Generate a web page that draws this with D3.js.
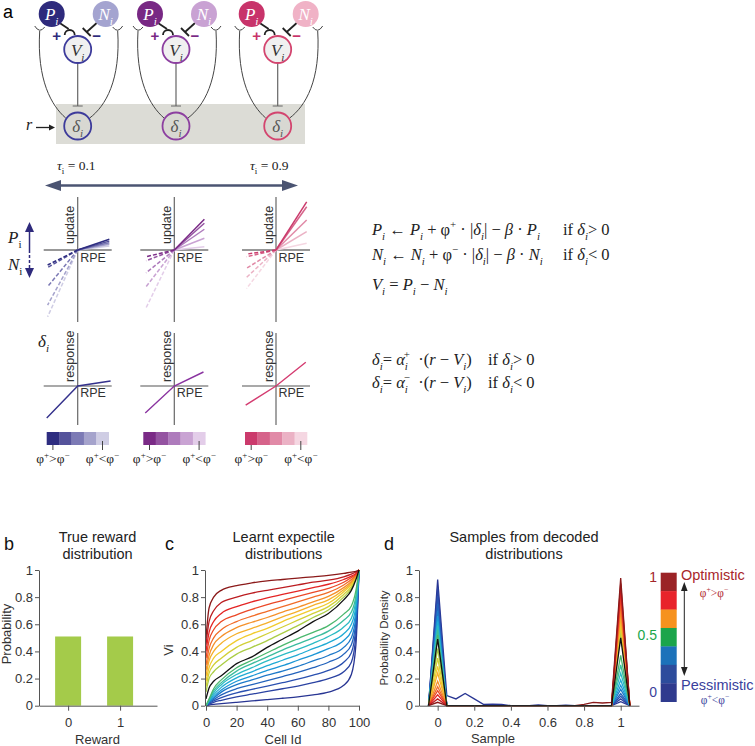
<!DOCTYPE html>
<html>
<head>
<meta charset="utf-8">
<title>Distributional RL figure</title>
<script src="https://d3js.org/d3.v7.min.js"></script>
<style>
  body { margin: 0; background: #fff; }
  svg text { font-family: "Liberation Sans", Arial, sans-serif; }
</style>
</head>
<body>
<svg id="fig" width="755" height="746"></svg>
<script>
// ---------- data ----------
// panel a: update slope per unit RPE, darkest shade first
const posSlopes = [[0.34, 0.28, 0.23, 0.18, 0.13], [1.02, 0.89, 0.69, 0.39, 0.11], [1.57, 1.41, 0.98, 0.60, 0.22]];
const negSlopes = [[0.50, 0.58, 1.22, 1.83, 2.22], [0.24, 0.38, 0.81, 1.30, 2.05], [0.14, 0.23, 0.62, 0.93, 1.31]];
const respPos = [0.15, 0.48, 0.80];
const respNeg = [1.03, 0.93, 0.63];
const tauLabels = ["0.1", "0.9"];

// panel b
const rewards = [0, 1];
const rewardProb = [0.51, 0.51];

// panel c: Vi at these cell ids, one row per expectile (bottom -> top), row 10 is black
const cellIds = [0, 2, 5, 10, 20, 30, 40, 50, 60, 70, 80, 90, 95, 98, 100];
const expectileCurves = [
  [0.00, 0.005, 0.01, 0.015, 0.025, 0.035, 0.045, 0.055, 0.065, 0.08, 0.10, 0.15, 0.23, 0.45, 1.0],
  [0.00, 0.012, 0.025, 0.04, 0.065, 0.085, 0.105, 0.125, 0.145, 0.17, 0.20, 0.25, 0.32, 0.52, 1.0],
  [0.00, 0.018, 0.035, 0.06, 0.095, 0.12, 0.145, 0.17, 0.195, 0.225, 0.26, 0.32, 0.39, 0.58, 1.0],
  [0.00, 0.022, 0.045, 0.08, 0.125, 0.155, 0.185, 0.215, 0.245, 0.28, 0.32, 0.38, 0.45, 0.62, 1.0],
  [0.00, 0.026, 0.055, 0.10, 0.155, 0.19, 0.225, 0.255, 0.29, 0.33, 0.37, 0.43, 0.50, 0.66, 1.0],
  [0.00, 0.03, 0.065, 0.115, 0.18, 0.22, 0.26, 0.295, 0.335, 0.375, 0.42, 0.48, 0.55, 0.70, 1.0],
  [0.00, 0.035, 0.08, 0.135, 0.205, 0.25, 0.295, 0.335, 0.375, 0.42, 0.465, 0.53, 0.60, 0.74, 1.0],
  [0.00, 0.04, 0.095, 0.155, 0.23, 0.28, 0.33, 0.375, 0.415, 0.46, 0.51, 0.58, 0.645, 0.78, 1.0],
  [0.00, 0.045, 0.11, 0.17, 0.255, 0.31, 0.36, 0.41, 0.455, 0.50, 0.55, 0.63, 0.69, 0.81, 1.0],
  [0.00, 0.05, 0.125, 0.19, 0.28, 0.335, 0.39, 0.445, 0.495, 0.54, 0.59, 0.675, 0.735, 0.85, 1.0],
  [0.05, 0.13, 0.18, 0.22, 0.31, 0.36, 0.43, 0.49, 0.55, 0.62, 0.68, 0.78, 0.85, 0.93, 1.0],
  [0.10, 0.20, 0.25, 0.30, 0.38, 0.43, 0.48, 0.535, 0.59, 0.65, 0.705, 0.80, 0.865, 0.94, 1.0],
  [0.14, 0.24, 0.30, 0.35, 0.43, 0.48, 0.53, 0.58, 0.63, 0.68, 0.73, 0.82, 0.88, 0.945, 1.0],
  [0.18, 0.28, 0.35, 0.40, 0.48, 0.53, 0.57, 0.62, 0.665, 0.71, 0.755, 0.84, 0.895, 0.95, 1.0],
  [0.22, 0.33, 0.40, 0.46, 0.53, 0.57, 0.61, 0.655, 0.695, 0.74, 0.78, 0.855, 0.905, 0.955, 1.0],
  [0.26, 0.37, 0.45, 0.51, 0.575, 0.615, 0.65, 0.69, 0.725, 0.765, 0.805, 0.87, 0.915, 0.96, 1.0],
  [0.30, 0.42, 0.50, 0.56, 0.62, 0.66, 0.695, 0.73, 0.765, 0.80, 0.835, 0.89, 0.93, 0.965, 1.0],
  [0.35, 0.48, 0.56, 0.62, 0.67, 0.71, 0.745, 0.775, 0.805, 0.835, 0.865, 0.91, 0.945, 0.97, 1.0],
  [0.40, 0.54, 0.62, 0.68, 0.73, 0.765, 0.795, 0.82, 0.845, 0.87, 0.895, 0.93, 0.955, 0.975, 1.0],
  [0.45, 0.62, 0.70, 0.76, 0.80, 0.83, 0.85, 0.87, 0.89, 0.91, 0.925, 0.95, 0.97, 0.985, 1.0],
  [0.50, 0.72, 0.80, 0.85, 0.885, 0.905, 0.92, 0.93, 0.94, 0.95, 0.96, 0.975, 0.985, 0.99, 1.0]
];

// panel d: decoded densities on the sample grid, same row order as panel c
const sampleGrid = [-0.05, 0, 0.05, 0.1, 0.15, 0.2, 0.25, 0.3, 0.35, 0.4, 0.45, 0.5, 0.55, 0.6, 0.65, 0.7, 0.75, 0.8, 0.85, 0.9, 0.95, 1, 1.05];
const peakAtZero = [0.93, 0.87, 0.81, 0.75, 0.70, 0.66, 0.62, 0.59, 0.56, 0.52, 0.49, 0.42, 0.35, 0.29, 0.24, 0.18, 0.14, 0.11, 0.08, 0.05, 0.025];
const peakAtOne = [0.03, 0.05, 0.07, 0.09, 0.12, 0.15, 0.19, 0.24, 0.30, 0.37, 0.50, 0.54, 0.58, 0.62, 0.66, 0.71, 0.76, 0.81, 0.86, 0.90, 0.94];
const pessimisticTail = [0, 0.93, 0.075, 0.05, 0.09, 0.05, 0.01, 0.012, 0.01, 0, 0, 0, 0.005, 0, 0, 0.004, 0, 0, 0, 0, 0, 0.03, 0];
const optimisticTail = [0, 0.025, 0, 0, 0, 0, 0, 0, 0, 0, 0, 0, 0, 0, 0, 0, 0, 0.01, 0.025, 0.02, 0.025, 0.94, 0];
const legendTicks = [["1", 1], ["0.5", 0.5], ["0", 0]];
const legendColors = ["#9b2326", "#e8232b", "#f6921e", "#1ba54b", "#1c72ba", "#2d4c9c", "#2f3a8e"];

// ---------- helpers ----------
const svg = d3.select("#fig");
const serif = '"Liberation Serif", "Times New Roman", serif';

// parts: [text, italic, shift] where shift is "sub" | "sup" | undefined
function rich(g, x, y, parts, size, color, anchor) {
  const t = g.append("text").attr("x", x).attr("y", y)
    .style("font-family", serif).style("font-size", size + "px")
    .style("white-space", "pre").attr("fill", color || "#222")
    .attr("text-anchor", anchor || "start");
  let cur = 0;
  parts.forEach(p => {
    const s = t.append("tspan").text(p[0]);
    let target = 0;
    if (p[2] === "sub") target = size * 0.3;
    if (p[2] === "sup") target = -size * 0.4;
    if (target !== cur) { s.attr("dy", target - cur); cur = target; }
    if (p[2]) s.style("font-size", (size * 0.66) + "px");
    if (p[1]) s.style("font-style", "italic");
    if (p[3]) s.attr("dx", p[3]);
  });
  return t;
}

function styleAxis(g, size) {
  g.select(".domain").attr("stroke", "#555");
  g.selectAll(".tick line").attr("stroke", "#555");
  g.selectAll(".tick text").attr("fill", "#333")
    .style("font-family", '"Liberation Sans", Arial, sans-serif').style("font-size", size + "px");
}
const fmt = d3.format("~g");

// ---------- panel a ----------
const pal = [
  { P: "#2e2a7c", N: "#a4a4d0", V: "#3d3b9b", line: "#34318c",
    shades: ["#2e2d80", "#55539b", "#7c7ab5", "#a5a3cc", "#cfcde4"] },
  { P: "#782884", N: "#c9a2d3", V: "#8c3fa0", line: "#8a34a0",
    shades: ["#7a2a86", "#9453a1", "#ae7bbc", "#c9a3d3", "#e3cde9"] },
  { P: "#c8336a", N: "#f0b2c6", V: "#d3456f", line: "#d43b70",
    shades: ["#cb3a6c", "#d6638a", "#e18aa7", "#ebb2c5", "#f5d7e2"] }
];
const nodeX = [77.7, 176, 277.7];
const plotX = [77.7, 174.3, 276];

const a = svg.append("g");
a.append("text").attr("x", 3).attr("y", 18).style("font-size", "18px").text("a");
a.append("rect").attr("x", 56).attr("y", 104).attr("width", 249).attr("height", 40).attr("fill", "#dcdcd6");

nodeX.forEach((cx, g) => {
  const c = pal[g];
  // long arcs from delta back to P and N
  a.append("path").attr("d", `M${cx - 38},31 C${cx - 41},80 ${cx - 26},106 ${cx - 12},118`)
    .attr("fill", "none").attr("stroke", "#444").attr("stroke-width", 1);
  a.append("path").attr("d", `M${cx + 40},31 C${cx + 43},80 ${cx + 28},106 ${cx + 12},118`)
    .attr("fill", "none").attr("stroke", "#444").attr("stroke-width", 1);
  a.append("path").attr("d", `M${cx - 43},26 Q${cx - 38},34 ${cx - 33},27`)
    .attr("fill", "none").attr("stroke", "#444").attr("stroke-width", 1);
  a.append("path").attr("d", `M${cx + 35},27 Q${cx + 40},34 ${cx + 45},26`)
    .attr("fill", "none").attr("stroke", "#444").attr("stroke-width", 1);
  // P -> V (cup) and N -> V (bar)
  a.append("path").attr("d", `M${cx - 18},23 L${cx - 9},29`).attr("stroke", "#222").attr("stroke-width", 1.8);
  a.append("path").attr("d", `M${cx - 13},35 A5 5 0 0 1 ${cx - 3},35`).attr("fill", "none").attr("stroke", "#222").attr("stroke-width", 1.8);
  a.append("path").attr("d", `M${cx + 19},23 L${cx + 9},32`).attr("stroke", "#222").attr("stroke-width", 1.8);
  a.append("path").attr("d", `M${cx + 5},28 L${cx + 13},36`).attr("stroke", "#222").attr("stroke-width", 1.8);
  a.append("text").attr("x", cx - 21).attr("y", 41).attr("text-anchor", "middle")
    .style("font-size", "15px").style("font-weight", "bold").attr("fill", c.P).text("+");
  a.append("text").attr("x", cx + 19).attr("y", 41).attr("text-anchor", "middle")
    .style("font-size", "15px").style("font-weight", "bold").attr("fill", c.P).text("−");
  // V -> delta
  a.append("path").attr("d", `M${cx},63 L${cx},106 M${cx - 5},106 L${cx + 5},106`)
    .attr("stroke", "#666").attr("stroke-width", 1.2);
  // nodes
  a.append("circle").attr("cx", cx - 26).attr("cy", 14).attr("r", 13).attr("fill", c.P);
  a.append("circle").attr("cx", cx + 28).attr("cy", 14).attr("r", 13).attr("fill", c.N);
  a.append("circle").attr("cx", cx).attr("cy", 49.5).attr("r", 13.5).attr("fill", "#f0f0f0").attr("stroke", c.V).attr("stroke-width", 1.8);
  a.append("circle").attr("cx", cx).attr("cy", 126).attr("r", 13.5).attr("fill", "#d8d8d2").attr("stroke", c.V).attr("stroke-width", 1.8);
  rich(a, cx - 26, 20, [["P", true], ["i", true, "sub"]], 17, "#fff", "middle");
  rich(a, cx + 28, 20, [["N", true], ["i", true, "sub"]], 17, "#fff", "middle");
  rich(a, cx, 55.5, [["V", true], ["i", true, "sub"]], 17, "#333", "middle");
  rich(a, cx, 131.5, [["δ", true], ["i", true, "sub"]], 17, "#555", "middle");
});
rich(a, 26, 130, [["r", true]], 16, "#222");
a.append("path").attr("d", "M36,127.5 L51,127.5").attr("stroke", "#222").attr("stroke-width", 1.3);
a.append("path").attr("d", "M55,127.5 L49,124.5 L49,130.5 Z").attr("fill", "#222");

// tau double arrow
rich(a, 57, 170, [["τ", true], ["i", false, "sub"], [" = " + tauLabels[0]]], 13.5, "#222");
rich(a, 250, 170, [["τ", true], ["i", false, "sub"], [" = " + tauLabels[1]]], 13.5, "#222");
a.append("path").attr("d", "M58,185.5 L285,185.5").attr("stroke", "#4b5472").attr("stroke-width", 2.5);
a.append("path").attr("d", "M45,185.5 L61,180 L61,191 Z").attr("fill", "#4b5472");
a.append("path").attr("d", "M298,185.5 L282,180 L282,191 Z").attr("fill", "#4b5472");

// P / N arrow on the left
rich(a, 8, 243, [["P", true], ["i", false, "sub"]], 17, "#222");
rich(a, 8, 270, [["N", true], ["i", false, "sub"]], 17, "#222");
a.append("path").attr("d", "M29.5,230 L29.5,250").attr("stroke", "#2e2a7c").attr("stroke-width", 1.5);
a.append("path").attr("d", "M29.5,250 L29.5,271").attr("stroke", "#2e2a7c").attr("stroke-width", 1.5).attr("stroke-dasharray", "3,2");
a.append("path").attr("d", "M29.5,222 L25,232 L34,232 Z").attr("fill", "#2e2a7c");
a.append("path").attr("d", "M29.5,278 L25,268 L34,268 Z").attr("fill", "#2e2a7c");

// update and response mini plots
const posEnd = [1.02, 0.97, 0.99];
const negEnd = [-0.97, -0.91, -0.95];
plotX.forEach((cx, g) => {
  const c = pal[g];
  const x = d3.scaleLinear().domain([-1, 1]).range([cx - 31, cx + 31]);
  const yU = d3.scaleLinear().domain([-1, 1]).range([250 + 31, 250 - 31]);
  const yR = d3.scaleLinear().domain([-1, 1]).range([386 + 31, 386 - 31]);
  const line = d3.line().x(d => x(d[0]));

  // axes
  a.append("line").attr("x1", cx).attr("x2", cx).attr("y1", 197).attr("y2", 322).attr("stroke", "#666").attr("stroke-width", 1.2);
  a.append("line").attr("x1", cx - 34).attr("x2", cx + 34).attr("y1", 250).attr("y2", 250).attr("stroke", "#333").attr("stroke-width", 1.2);
  a.append("line").attr("x1", cx).attr("x2", cx).attr("y1", 333).attr("y2", 425).attr("stroke", "#666").attr("stroke-width", 1.2);
  a.append("line").attr("x1", cx - 34).attr("x2", cx + 34).attr("y1", 386).attr("y2", 386).attr("stroke", "#555").attr("stroke-width", 1.2);

  for (let k = 4; k >= 0; k--) {
    const sp = posSlopes[g][k], sn = negSlopes[g][k];
    a.append("path").attr("d", line.y(d => yU(d[1]))([[0, 0], [posEnd[g], sp * posEnd[g]]]))
      .attr("stroke", c.shades[k]).attr("stroke-width", 1.5).attr("fill", "none");
    a.append("path").attr("d", line.y(d => yU(d[1]))([[0, 0], [negEnd[g], sn * negEnd[g]]]))
      .attr("stroke", c.shades[k]).attr("stroke-width", 1.5).attr("fill", "none").attr("stroke-dasharray", "4,2");
  }
  const rl = posEnd[g] * (g === 0 ? 1.04 : 0.97);
  a.append("path").attr("d", line.y(d => yR(d[1]))([[negEnd[g] * 1.03, respNeg[g] * negEnd[g] * 1.03], [0, 0], [rl, respPos[g] * rl]]))
    .attr("stroke", c.line).attr("stroke-width", 1.4).attr("fill", "none");

  a.append("text").attr("transform", `translate(${cx - 3.5},244) rotate(-90)`)
    .style("font-size", "12.5px").attr("fill", "#333").text("update");
  a.append("text").attr("x", cx + 2.5).attr("y", 262).style("font-size", "12.5px").attr("fill", "#333").text("RPE");
  a.append("text").attr("transform", `translate(${cx - 3.5},382) rotate(-90)`)
    .style("font-size", "12.5px").attr("fill", "#333").text("response");
  a.append("text").attr("x", cx + 2.5).attr("y", 397).style("font-size", "12.5px").attr("fill", "#333").text("RPE");

  // shade bar
  const bx = d3.scaleBand().domain(d3.range(5)).range([cx - 31, cx + 31]);
  a.append("g").selectAll("rect").data(c.shades).join("rect")
    .attr("x", (d, i) => bx(i)).attr("y", 432).attr("width", bx.bandwidth() + 0.3).attr("height", 13).attr("fill", d => d);
  const t0 = bx(0) + bx.bandwidth() / 2, t4 = bx(4) + bx.bandwidth() / 2;
  a.append("path").attr("d", `M${t0},445 L${t0},450 M${t4},441 L${t4},450`).attr("stroke", "#444").attr("stroke-width", 1);
  rich(a, t0, 463, [["φ"], ["+", false, "sup"], [">"], ["φ"], ["−", false, "sup"]], 13.5, "#222", "middle");
  rich(a, t4, 463, [["φ"], ["+", false, "sup"], ["<"], ["φ"], ["−", false, "sup"]], 13.5, "#222", "middle");
});
rich(a, 38, 347, [["δ", true], ["i", true, "sub"]], 17, "#222");

// equations
const eq = svg.append("g");
const ES = 16.5;
rich(eq, 372, 235, [["P", true], ["i", true, "sub"], [" ← "], ["P", true], ["i", true, "sub"], [" + φ"], ["+", false, "sup"],
  [" · |"], ["δ", true], ["i", true, "sub"], ["| − "], ["β", true], [" · "], ["P", true], ["i", true, "sub"]], ES);
rich(eq, 563, 235, [["if "], ["δ", true], ["i", true, "sub"], ["> 0"]], ES);
rich(eq, 372, 260, [["N", true], ["i", true, "sub"], [" ← "], ["N", true], ["i", true, "sub"], [" + φ"], ["−", false, "sup"],
  [" · |"], ["δ", true], ["i", true, "sub"], ["| − "], ["β", true], [" · "], ["N", true], ["i", true, "sub"]], ES);
rich(eq, 563, 260, [["if "], ["δ", true], ["i", true, "sub"], ["< 0"]], ES);
rich(eq, 372, 290, [["V", true], ["i", true, "sub"], [" = "], ["P", true], ["i", true, "sub"], [" − "], ["N", true], ["i", true, "sub"]], ES);
rich(eq, 372, 365, [["δ", true], ["i", true, "sub"], ["= "], ["α", true], ["i", true, "sub"], ["+", false, "sup", -4], ["  ·("], ["r", true], [" − "], ["V", true], ["i", true, "sub"], [")"]], ES);
rich(eq, 488, 365, [["if "], ["δ", true], ["i", true, "sub"], ["> 0"]], ES);
rich(eq, 372, 388, [["δ", true], ["i", true, "sub"], ["= "], ["α", true], ["i", true, "sub"], ["−", false, "sup", -4], ["  ·("], ["r", true], [" − "], ["V", true], ["i", true, "sub"], [")"]], ES);
rich(eq, 488, 388, [["if "], ["δ", true], ["i", true, "sub"], ["< 0"]], ES);

// ---------- shared bottom layout ----------
const y0 = 705.7, y1 = 570;
function panelTitle(x, lines) {
  svg.append("text").attr("x", x).attr("y", 541.5).attr("text-anchor", "middle").style("font-size", "14.5px").attr("fill", "#222").text(lines[0]);
  svg.append("text").attr("x", x).attr("y", 559).attr("text-anchor", "middle").style("font-size", "14.5px").attr("fill", "#222").text(lines[1]);
}
function letter(x, t) {
  svg.append("text").attr("x", x).attr("y", 550).style("font-size", "18px").attr("fill", "#111").text(t);
}

// ---------- panel b ----------
letter(4, "b");
panelTitle(97.5, ["True reward", "distribution"]);
const xb = d3.scaleLinear().domain([-0.56, 1.71]).range([39, 157]);
const yb = d3.scaleLinear().domain([0, 1]).range([y0, y1]);
svg.append("g").selectAll("rect").data(rewards).join("rect")
  .attr("x", (d, i) => xb(d - 0.25)).attr("width", xb(0.25) - xb(-0.25))
  .attr("y", (d, i) => yb(rewardProb[i])).attr("height", (d, i) => y0 - yb(rewardProb[i]))
  .attr("fill", "#a4cb4a");
styleAxis(svg.append("g").attr("transform", `translate(39,0)`)
  .call(d3.axisLeft(yb).tickValues([0, 0.2, 0.4, 0.6, 0.8, 1]).tickFormat(fmt).tickSize(4).tickSizeOuter(0).tickPadding(2)), 13);
styleAxis(svg.append("g").attr("transform", `translate(0,${y0})`)
  .call(d3.axisBottom(xb).tickValues(rewards).tickFormat(fmt).tickSize(5).tickSizeOuter(0).tickPadding(7)), 13);
svg.append("text").attr("transform", "translate(11,634) rotate(-90)").attr("text-anchor", "middle").style("font-size", "13px").attr("fill", "#333").text("Probability");
svg.append("text").attr("x", 97.5).attr("y", 744).attr("text-anchor", "middle").style("font-size", "13px").attr("fill", "#333").text("Reward");

// ---------- panel c ----------
const jet = d3.scaleLinear()
  .domain(d3.range(12).map(i => i / 11))
  .range(["#283593", "#2b4cae", "#1f6fc4", "#1aa3dc", "#2fbfc0", "#4cb86a", "#a6cd45", "#f0d22e", "#f7a22a", "#ef5f28", "#e31e24", "#8b1a1a"]);
const curveColor = i => i === 10 ? "#111" : jet(i / 20);

letter(165, "c");
panelTitle(283.7, ["Learnt expectile", "distributions"]);
const xc = d3.scaleLinear().domain([0, 100]).range([206, 359]);
const yc = d3.scaleLinear().domain([0, 1]).range([y0, y1]);
const lineC = d3.line().x((d, i) => xc(cellIds[i])).y(d => yc(d)).curve(d3.curveMonotoneX);
const cOrder = d3.range(21).filter(i => i !== 10).concat([10]);
svg.append("g").selectAll("path").data(cOrder).join("path")
  .attr("d", i => lineC(expectileCurves[i]))
  .attr("fill", "none").attr("stroke", i => curveColor(i)).attr("stroke-width", 1.3);
styleAxis(svg.append("g").attr("transform", `translate(205,0)`)
  .call(d3.axisLeft(yc).tickValues([0, 0.2, 0.4, 0.6, 0.8, 1]).tickFormat(fmt).tickSize(4).tickSizeOuter(0).tickPadding(2)), 13);
styleAxis(svg.append("g").attr("transform", `translate(0,${y0})`)
  .call(d3.axisBottom(xc).tickValues([0, 20, 40, 60, 80, 100]).tickSize(5).tickSizeOuter(0).tickPadding(7)), 13);
svg.append("text").attr("transform", "translate(173,650) rotate(-90)").attr("text-anchor", "middle").style("font-size", "13px").attr("fill", "#333").text("Vi");
svg.append("text").attr("x", 283).attr("y", 744).attr("text-anchor", "middle").style("font-size", "13px").attr("fill", "#333").text("Cell Id");

// ---------- panel d ----------
letter(384, "d");
panelTitle(524, ["Samples from decoded", "distributions"]);
const xd = d3.scaleLinear().domain([-0.102, 1.1]).range([419, 639]);
const yd = d3.scaleLinear().domain([0, 1]).range([y0, y1]);
const decoded = d3.range(21).map(i => {
  if (i === 0) return pessimisticTail;
  if (i === 20) return optimisticTail;
  return sampleGrid.map(s => s === 0 ? peakAtZero[i] : (s === 1 ? peakAtOne[i] : 0));
});
const lineD = d3.line().x((d, i) => xd(sampleGrid[i])).y(d => yd(d));
svg.append("g").selectAll("path").data(cOrder).join("path")
  .attr("d", i => lineD(decoded[i]))
  .attr("fill", "none").attr("stroke", i => curveColor(i)).attr("stroke-width", 1.3).attr("stroke-linejoin", "miter");
styleAxis(svg.append("g").attr("transform", `translate(419,0)`)
  .call(d3.axisLeft(yd).tickValues([0, 0.2, 0.4, 0.6, 0.8, 1]).tickFormat(fmt).tickSize(4).tickSizeOuter(0).tickPadding(2)), 13);
styleAxis(svg.append("g").attr("transform", `translate(0,${y0})`)
  .call(d3.axisBottom(xd).tickValues([0, 0.2, 0.4, 0.6, 0.8, 1]).tickFormat(fmt).tickSize(5).tickSizeOuter(0).tickPadding(7)), 13);
svg.append("text").attr("transform", "translate(388,638) rotate(-90)").attr("text-anchor", "middle").style("font-size", "11.5px").attr("fill", "#333").text("Probability Density");
svg.append("text").attr("x", 493).attr("y", 743).attr("text-anchor", "middle").style("font-size", "13px").attr("fill", "#333").text("Sample");

// colour legend
const ly = d3.scaleBand().domain(d3.range(legendColors.length)).range([572.7, 701.7]);
svg.append("g").selectAll("rect").data(legendColors).join("rect")
  .attr("x", 660.7).attr("width", 16).attr("y", (d, i) => ly(i)).attr("height", ly.bandwidth() + 0.3).attr("fill", d => d);
const lv = d3.scaleLinear().domain([0, 1]).range([697, 582]);
const legendTickColor = { "1": "#a3262b", "0.5": "#1ba54b", "0": "#3a3f9c" };
svg.append("g").selectAll("text").data(legendTicks).join("text")
  .attr("x", 657).attr("y", d => lv(d[1])).attr("text-anchor", "end")
  .style("font-size", "14px").attr("fill", d => legendTickColor[d[0]]).text(d => d[0]);
svg.append("text").attr("x", 681).attr("y", 580).style("font-size", "14.5px").attr("fill", "#a8262b").text("Optimistic");
svg.append("text").attr("x", 681).attr("y", 690).style("font-size", "14.5px").attr("fill", "#3a3f9c").text("Pessimistic");
rich(svg, 714, 597, [["φ"], ["+", false, "sup"], [">"], ["φ"], ["−", false, "sup"]], 11.5, "#b0282d", "middle");
rich(svg, 715, 704, [["φ"], ["+", false, "sup"], ["<"], ["φ"], ["−", false, "sup"]], 11.5, "#3a3f9c", "middle");
svg.append("path").attr("d", "M684.3,588 L684.3,670").attr("stroke", "#222").attr("stroke-width", 1);
svg.append("path").attr("d", "M684.3,582 L681,591 L687.6,591 Z").attr("fill", "#222");
svg.append("path").attr("d", "M684.3,676 L681,667 L687.6,667 Z").attr("fill", "#222");
</script>
</body>
</html>
